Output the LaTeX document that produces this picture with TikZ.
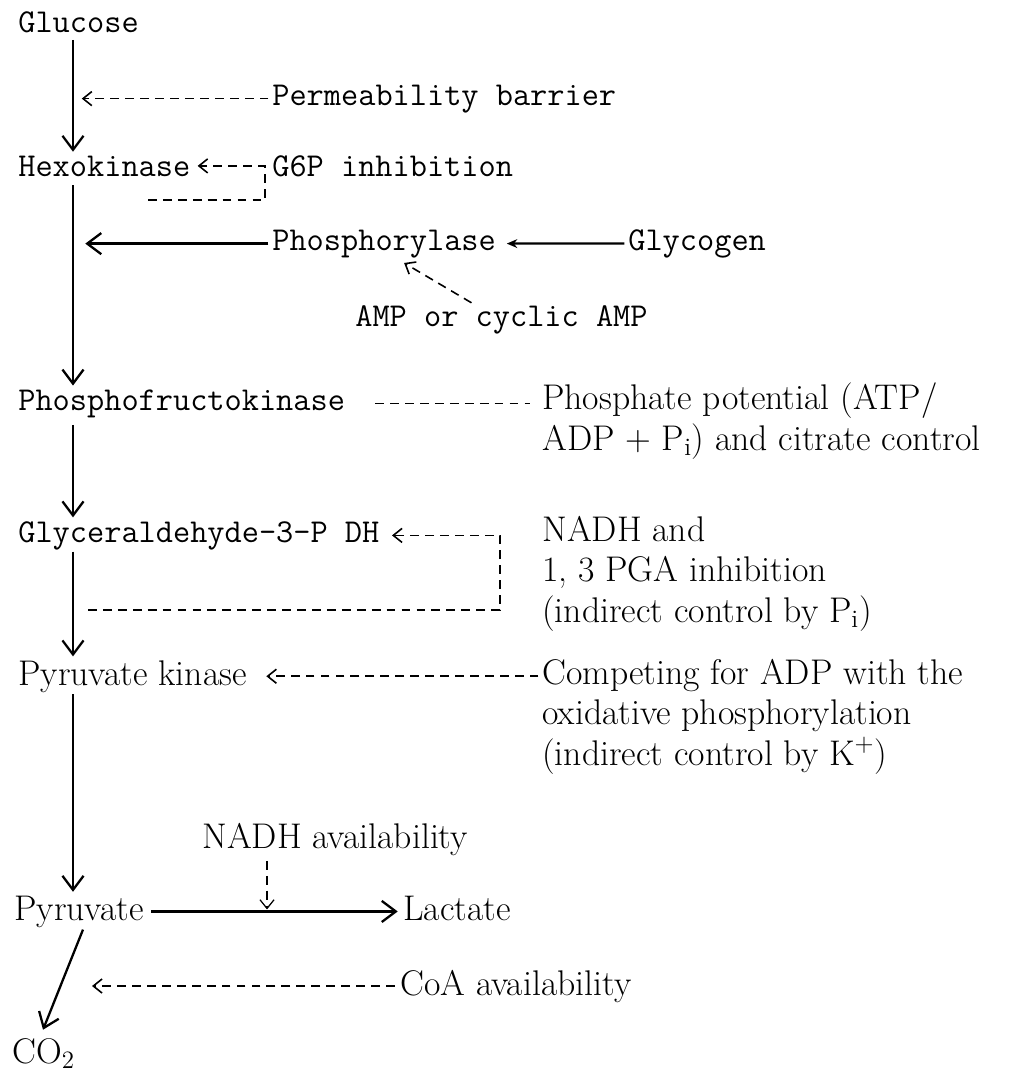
\documentclass[tikz,border=0pt]{standalone}
\usepackage{tikz}
\usetikzlibrary{arrows.meta,calc}

\begin{document}
\begin{tikzpicture}[x=0.02cm,y=-0.02cm,
    tw/.style={anchor=base west,inner sep=0pt,font=\fontsize{19}{23}\selectfont\ttfamily},
    pr/.style={anchor=base west,inner sep=0pt,align=left,font=\fontsize{20.3}{22.8}\selectfont},
    flow/.style={-{Straight Barb[length=8pt,width=12pt]},line width=1.3pt},
    link/.style={line width=0.9pt,dash pattern=on 5pt off 3.5pt},
    ctrl/.style={link,-{Straight Barb[length=5pt,width=8pt]}}]
      \useasboundingbox (0,0) rectangle (1032,1076);
      \coordinate (spine) at (73,0);
      % Pathway (base of last line)
      \node[tw] (glucose) at (18,32) {Glucose};
      \node[tw] (hexo) at (18,176) {Hexokinase};
      \node[tw] (pfk) at (18,410) {Phosphofructokinase};
      \node[tw] (gapdh) at (18,542) {Glyceraldehyde-3-P DH};
      \node[pr] (pk) at (18,685) {Pyruvate kinase};
      \node[pr] (pyr) at (14,920) {Pyruvate};
      \node[pr] (lact) at (403,920) {Lactate};
      \node[pr] (co2) at (12,1063) {CO\textsubscript{2}};
      % Controls
      \node[tw] (perm) at (272,105) {Permeability barrier};
      \node[tw] (gsix) at (272,176) {G6P inhibition};
      \node[tw] (phosph) at (272,250) {Phosphorylase};
      \node[tw] (glycogen) at (628,250) {Glycogen};
      \node[tw] (amp) at (355,326) {AMP or cyclic AMP};
      \node[pr] (ppot) at (542,450) {Phosphate potential (ATP/\\ADP + P\textsubscript{i}) and citrate control};
      \node[pr] (nadh) at (542,622) {NADH and\\1, 3 PGA inhibition\\(indirect control by P\textsubscript{i})};
      \node[pr] (compet) at (542,765) {Competing for ADP with the\\oxidative phosphorylation\\(indirect control by K\textsuperscript{+})};
      \node[pr] (nadhav) at (202,848) {NADH availability};
      \node[pr] (coa) at (400,995) {CoA availability};
      % Main arrows
      \draw[flow,shorten <=4pt,shorten >=2pt] (glucose.south -| spine) -- (hexo.north -| spine);
      \draw[flow,shorten <=5pt,shorten >=2pt] (hexo.south -| spine) -- (pfk.north -| spine);
      \draw[flow,shorten <=4pt,shorten >=2pt] (pfk.south -| spine) -- (gapdh.north -| spine);
      \draw[flow,shorten <=1pt,shorten >=2pt] (gapdh.south -| spine) -- (pk.north -| spine);
      \draw[flow,shorten <=1pt,shorten >=2pt] (pk.south -| spine) -- (pyr.north -| spine);
      \draw[flow,shorten <=4pt,shorten >=3pt] (pyr.east) -- (pyr.east -| lact.west);
      \draw[flow] ($(pyr.south west)+(69,2)$) -- ($(co2.north west)+(31,-8)$);
      % Side arrows
      \draw[ctrl,shorten <=2pt,shorten >=5pt] (perm.west) -- (perm.west -| spine);
      \coordinate (gstart) at (148,200);
      \coordinate (gcorner) at (265,200);
      \draw[ctrl,shorten >=4pt] (gstart) -- (gcorner) |- (hexo.east);
      \draw[flow,shorten <=2pt,shorten >=7pt] (phosph.west) -- (phosph.west -| spine);
      \draw[line width=1.3pt,-{Stealth[length=6pt,width=5pt]},shorten <=2pt,shorten >=6pt] (glycogen.west) -- (phosph.east);
      \draw[ctrl] ($(amp.north)+(-30,-2)$) -- ($(phosph.south)+(20,5)$);
      \draw[link,shorten <=17pt,shorten >=7pt] (pfk.east) -- (pfk.east -| ppot.west);
      \coordinate (bstart) at (88,610);
      \coordinate (bcorner) at (500,610);
      \draw[ctrl,shorten >=7pt] (bstart) -- (bcorner) |- (gapdh.east);
      \draw[ctrl,shorten <=2pt,shorten >=11pt] (pk.east -| compet.west) -- (pk.east);
      \coordinate (lmid) at (267,913);
      \draw[ctrl,line width=0.7pt,shorten <=3pt,shorten >=2pt] (lmid |- nadhav.south) -- (lmid);
      \coordinate (coaend) at (92,0);
      \draw[ctrl,shorten <=3pt] (coa.west) -- (coa.west -| coaend);
    \end{tikzpicture}
\end{document}
